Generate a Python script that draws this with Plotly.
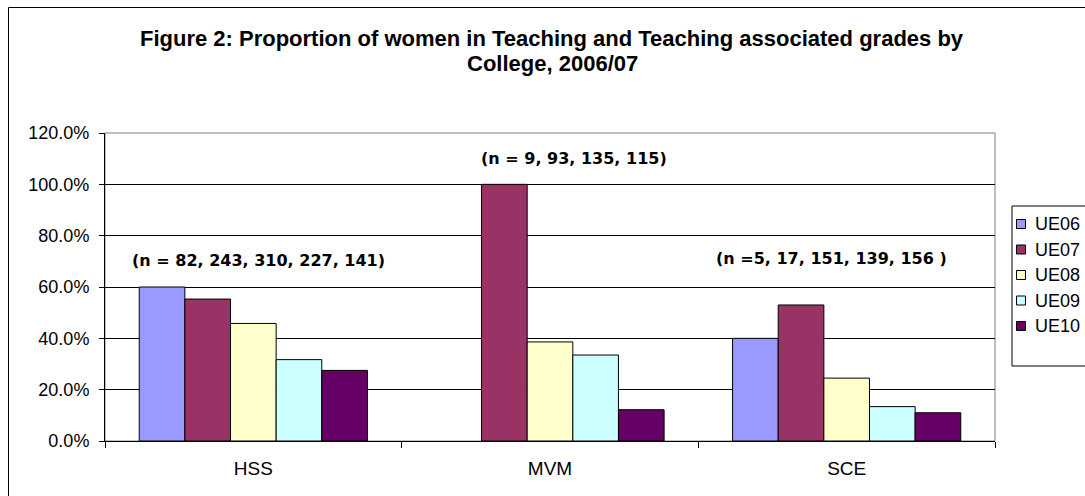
import plotly.graph_objects as go

colleges = ["HSS", "MVM", "SCE"]
grades = ["UE06", "UE07", "UE08", "UE09", "UE10"]
ue06 = [60.0, None, 40.0]
ue07 = [55.3, 100.0, 53.0]
ue08 = [45.8, 38.6, 24.5]
ue09 = [31.7, 33.5, 13.4]
ue10 = [27.5, 12.2, 11.0]
n_labels = ["(n = 82, 243, 310, 227, 141)", "(n = 9, 93, 135, 115)", "(n =5, 17, 151, 139, 156 )"]
label_y = [70.5, 109.9, 71.3]
label_shift = [5, 24, -15]
y_ticks = [0, 20, 40, 60, 80, 100, 120]
title_lines = ["Figure 2: Proportion of women in Teaching and Teaching associated grades by", "College, 2006/07"]

colors = ["#9999FF", "#993366", "#FFFFCC", "#CCFFFF", "#660066"]
series = [ue06, ue07, ue08, ue09, ue10]

W, H = 1085, 496
L, R, T, B = 105, 90, 133, 55
pw, ph = W - L - R, H - T - B

def px_x(fx):
    return (fx - L) / pw

def px_y(fy):
    return 1 + (T - fy) / ph

fig = go.Figure()
for name, vals, c in zip(grades, series, colors):
    fig.add_trace(go.Bar(x=colleges, y=vals, name=name, showlegend=False,
                         marker=dict(color=c, line=dict(color="black", width=1))))

for cat, txt, yv, sh in zip(colleges, n_labels, label_y, label_shift):
    fig.add_annotation(x=cat, y=yv, xref="x", yref="y", text="<b>%s</b>" % txt, showarrow=False,
                       xshift=sh, font=dict(family="DejaVu Sans", size=16, color="black"))

for line, fy in zip(title_lines, [38.5, 63.0]):
    fig.add_annotation(x=px_x(552), y=px_y(fy), xref="paper", yref="paper", text="<b>%s</b>" % line,
                       showarrow=False, xanchor="center", yanchor="middle",
                       font=dict(family="Liberation Sans, Arial", size=22, color="black"))

# outer border (extends beyond right/bottom edge as in the reference)
fig.add_shape(type="rect", xref="paper", yref="paper",
              x0=px_x(8.5), x1=px_x(W + 30), y0=px_y(H + 30), y1=px_y(7.5),
              line=dict(color="black", width=1))
# plot area border
fig.add_shape(type="rect", xref="paper", yref="paper", x0=0, x1=1, y0=0, y1=1,
              line=dict(color="#808080", width=1), layer="below")

# legend box (clipped at the right edge, as in the reference)
leg_left, leg_top, leg_bottom = 1012, 206, 366
fig.add_shape(type="rect", xref="paper", yref="paper",
              x0=px_x(leg_left), x1=px_x(W + 30), y0=px_y(leg_bottom), y1=px_y(leg_top),
              line=dict(color="black", width=1), fillcolor="white")
item_y = [224, 249.5, 275, 300.5, 326]
for name, c, fy in zip(grades, colors, item_y):
    fig.add_shape(type="rect", xref="paper", yref="paper",
                  x0=px_x(1016.5), x1=px_x(1025.5), y0=px_y(fy + 4.5), y1=px_y(fy - 4.5),
                  line=dict(color="black", width=1), fillcolor=c)
    fig.add_annotation(x=px_x(1033), y=px_y(fy), xref="paper", yref="paper", text=name,
                       showarrow=False, xanchor="left", yanchor="middle",
                       font=dict(family="Liberation Sans, Arial", size=18, color="black"))

fig.update_layout(
    width=W, height=H,
    margin=dict(l=L, r=R, t=T, b=B, autoexpand=False),
    paper_bgcolor="white", plot_bgcolor="white",
    barmode="group", bargap=1.5 / 6.5, bargroupgap=0,
    font=dict(family="Liberation Sans, Arial", size=18, color="black"),
    showlegend=False,
)
fig.update_xaxes(showline=True, linecolor="black", linewidth=1, ticks="outside", tickson="boundaries",
                 ticklen=6, tickcolor="black", showgrid=False, tickfont=dict(size=19),
                 ticklabelstandoff=10)
fig.update_yaxes(range=[0, 120], tickvals=y_ticks, ticktext=["%.1f%%" % v for v in y_ticks],
                 showline=True, linecolor="black", linewidth=1, ticks="outside", ticklen=5,
                 tickcolor="black", showgrid=True, gridcolor="black", gridwidth=1,
                 zeroline=False, tickfont=dict(size=18), ticklabelstandoff=6)

fig.write_html("out.html", config={"displayModeBar": False},
               post_script="document.body.style.margin='0';document.body.style.overflow='hidden';")
